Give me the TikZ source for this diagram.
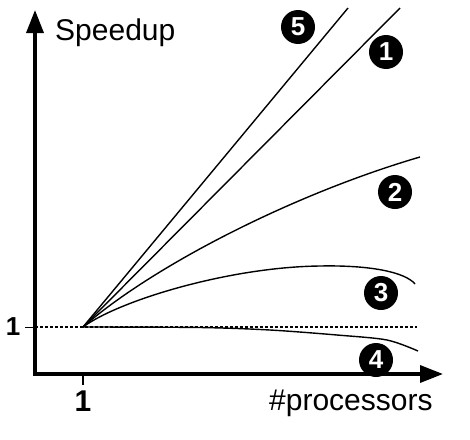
\documentclass[tikz,border=0pt]{standalone}
\usepackage{fontspec}
\setmainfont{Liberation Sans}
\usetikzlibrary{arrows.meta}
\newcommand{\lbl}{\fontsize{30}{30}\selectfont}
\tikzset{
  axis/.style={line width=3.5pt,-{Triangle[length=23pt,width=17pt]}},
  curve/.style={line width=1.4pt},
  numdot/.style={circle,fill=black,text=white,inner sep=0pt,minimum size=34pt,
    font=\bfseries\fontsize{26}{26}\selectfont}
}

\begin{document}
\begin{tikzpicture}[x=1pt,y=-1pt]
     \useasboundingbox (0,0) rectangle (470,439);
     \coordinate (o) at (83,327);
     \draw[axis] (35,376) -- (35,10);
     \draw[axis] (33,374) -- (443,374);
     \draw[line width=1pt] (25,327) -- (35,327);
     \draw[line width=1.2pt] (83,376) -- (83,385);
     \draw[line width=1.3pt,dash pattern=on 3pt off 2pt] (35,327) -- (417,327);
     \node[anchor=base,font=\bfseries\fontsize{26}{26}\selectfont] (ylab) at (13,335) {1};
     \node[anchor=base,font=\bfseries\fontsize{30}{30}\selectfont] (xlab) at (83,411) {1};
     \node[anchor=base west,font=\lbl,inner sep=0pt] (ytitle) at (55,40) {Speedup};
     \node[anchor=base west,font=\lbl,inner sep=0pt] (xtitle) at (269,410) {\#processors};
     % curves
     \draw[curve] (o) -- (348,8);
     \draw[curve] (o) -- (400,8);
     \draw[curve] (o) .. controls (150,268) and (290,195) .. (420,157);
     \draw[curve] (o) .. controls (120,300) and (230,267) .. (320,266)
       .. controls (370,265) and (405,272) .. (415,284);
     \draw[curve] plot[smooth] coordinates {(83,327) (200,327.5) (270,330) (337,335) (387,340) (418,351)};
     % numbers
     \node[numdot] (n5) at (298,27) {5};
     \node[numdot] (n1) at (386,52) {1};
     \node[numdot] (n2) at (395,192) {2};
     \node[numdot] (n3) at (381,293) {3};
     \node[numdot] (n4) at (376,360) {4};
\end{tikzpicture}
\end{document}
